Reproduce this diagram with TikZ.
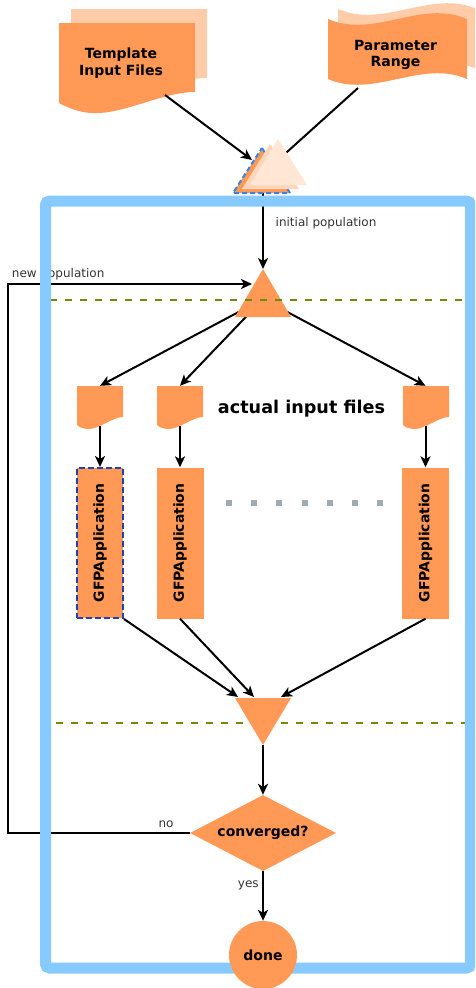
\documentclass[tikz,border=0pt]{standalone}
\usepackage{fontspec}
\usepackage{graphicx}
\setmainfont{DejaVu Sans}
\usetikzlibrary{arrows.meta,shapes.geometric}
\definecolor{org}{HTML}{FF9955}
\definecolor{lorg}{HTML}{FFCCAA}
\definecolor{morg}{HTML}{FFD6BA}
\definecolor{porg}{HTML}{FFE6D5}
\definecolor{frameblue}{HTML}{86CAFF}
\definecolor{dblue}{HTML}{2142B0}
\definecolor{tblue}{HTML}{3582E8}
\definecolor{sepgreen}{HTML}{6E8C0A}
\definecolor{dotgrey}{HTML}{A0AAB5}
\newcommand{\tmpldoc}[1]{\fill[#1] (59,23) -- (195,23) -- (195,92) .. controls (165,92) and (130,111) .. (100,113) .. controls (85,114) and (72,110) .. (59,103) -- cycle;}
\newcommand{\paramtape}[1]{\fill[#1] (328,19) .. controls (374,39) and (421,-1) .. (467,19) -- (467,79) .. controls (421,59) and (374,99) .. (328,79) -- cycle;}
\newcommand{\smalldoc}[2]{\begin{scope}[shift={(#1,#2)}]\fill[org] (0,0) -- (46,0) -- (46,31) .. controls (36,31) and (22,43) .. (12,43) .. controls (6,43) and (2,41) .. (0,39) -- cycle;\end{scope}}
\begin{document}
\begin{tikzpicture}[x=1pt,y=-1pt,
  arr/.style={line width=2pt, draw=black, -{Stealth[length=11pt,width=10pt,inset=3pt]}},
  plainline/.style={line width=2pt, draw=black},
  anch/.style={inner sep=0, minimum width=46pt, minimum height=40pt},
  lbl/.style={inner sep=0, text=black!80, font=\fontsize{12}{14}\selectfont},
  bigtxt/.style={inner sep=0, align=center, font=\fontsize{14}{16.7}\selectfont\bfseries},
  gfp/.style={fill=org, inner sep=0, minimum width=47pt, minimum height=151pt, font=\fontsize{13.9}{16}\selectfont\bfseries},
  sep/.style={draw=sepgreen, line width=2.5pt, dash pattern=on 7pt off 8pt},
  tridash/.style={draw=tblue, line width=2pt, dash pattern=on 5pt off 3pt}
]
\path[use as bounding box] (0,0) rectangle (475,988);
\fill[white] (0,0) rectangle (475,988);
\clip (0,0) rectangle (475,988);

% named points
\coordinate (tmplsrc) at (165,95);
\coordinate (stackin) at (252,160);
\coordinate (paramsrc) at (358,88);
\coordinate (stackin2) at (277,161);
\coordinate (stackbot) at (263,192);
\coordinate (selapex) at (263,269);
\coordinate (selc) at (263,299);
\coordinate (fbend) at (252,284);
\coordinate (m1) at (238,697);
\coordinate (m2) at (254,697);
\coordinate (m3) at (281,697);
\coordinate (mergeapex) at (263,745);
\node[anch] (d1) at (100,406) {};
\node[anch] (d2) at (180,406) {};
\node[anch] (d3) at (425.5,406) {};

% connectors hidden under shapes
\draw[plainline] (paramsrc) -- (stackin2);
\draw[arr] (stackbot) -- (selapex);
\draw[arr] (selc) -- (d1.north);
\draw[arr] (selc) -- (d2.north);
\draw[arr] (selc) -- (d3.north);

% input documents
\begin{scope}[shift={(12,-14)}]\tmpldoc{lorg}\end{scope}
\tmpldoc{org}
\begin{scope}[shift={(10,-10)}]\paramtape{lorg}\end{scope}
\paramtape{org}
\node[bigtxt, anchor=base] (tmpl) at (121,75) {Template\\Input Files};
\node[bigtxt, anchor=base] (param) at (395.5,66.7) {Parameter\\Range};

% stacked triangles
\fill[org] (262,148) -- (290,193) -- (233,193) -- cycle;
\draw[tridash] (262,148) -- (290,193) -- (233,193) -- cycle;
\fill[morg] (270,144) -- (299,189) -- (242,189) -- cycle;
\fill[porg] (278,139) -- (307,185) -- (250,185) -- cycle;
\draw[arr] (tmplsrc) -- (stackin);

% select triangle
\fill[org] (263,269) -- (291,317) -- (235,317) -- cycle;

% separators
\draw[sep] (50,300) -- (466,300);
\draw[sep] (56,723) -- (472,723);

% actual input files
\smalldoc{77}{386}
\smalldoc{157}{386}
\smalldoc{403}{386}
\node[inner sep=0, anchor=base, font=\fontsize{17.6}{20}\selectfont\bfseries] (aif) at (301.5,413.3) {actual input files};

% applications
\node[gfp, draw=dblue, line width=2pt, dash pattern=on 6pt off 3pt, minimum width=46pt, minimum height=150pt] (g1) at (100,543) {\rotatebox{90}{GFPApplication}};
\node[gfp] (g2) at (180,543) {\rotatebox{90}{GFPApplication}};
\node[gfp] (g3) at (425.5,543) {\rotatebox{90}{GFPApplication}};
\draw[dotgrey, line width=6pt, dash pattern=on 6pt off 19.27pt] (225.7,503) -- (383.3,503);

\draw[arr] (d1.south) -- (g1.north);
\draw[arr] (d2.south) -- (g2.north);
\draw[arr] (d3.south) -- (g3.north);

% merge triangle
\fill[org] (235,698) -- (291,698) -- (263,745) -- cycle;
\draw[arr] (g1.south east) -- (m1);
\draw[arr] (g2.south) -- (m2);
\draw[arr] (g3.south) -- (m3);

% decision
\node[diamond, fill=org, aspect=1.92, minimum width=146pt, minimum height=76pt, inner sep=0, font=\fontsize{14}{16}\selectfont\bfseries] (conv) at (263,833) {converged?};
\draw[arr] (mergeapex) -- (conv.north);

% feedback loop
\draw[arr] (conv.west) -- ++(-182,0) |- (fbend);
\node[lbl, anchor=base] (nolbl) at (166,827) {no};
\node[lbl, anchor=base west] (newpop) at (11.7,277.5) {new population};
\node[lbl, anchor=base west] (initpop) at (275.5,226) {initial population};

% frame
\draw[frameblue, line width=11pt, rounded corners=4pt] (45.5,201) rectangle (470.5,968);

% done
\node[circle, fill=org, minimum size=68pt, inner sep=0, font=\fontsize{14}{16}\selectfont\bfseries] (done) at (263,955) {done};
\draw[arr] (conv.south) -- (done.north);
\node[lbl, anchor=base] (yeslbl) at (248.3,887.7) {yes};
\end{tikzpicture}
\end{document}
